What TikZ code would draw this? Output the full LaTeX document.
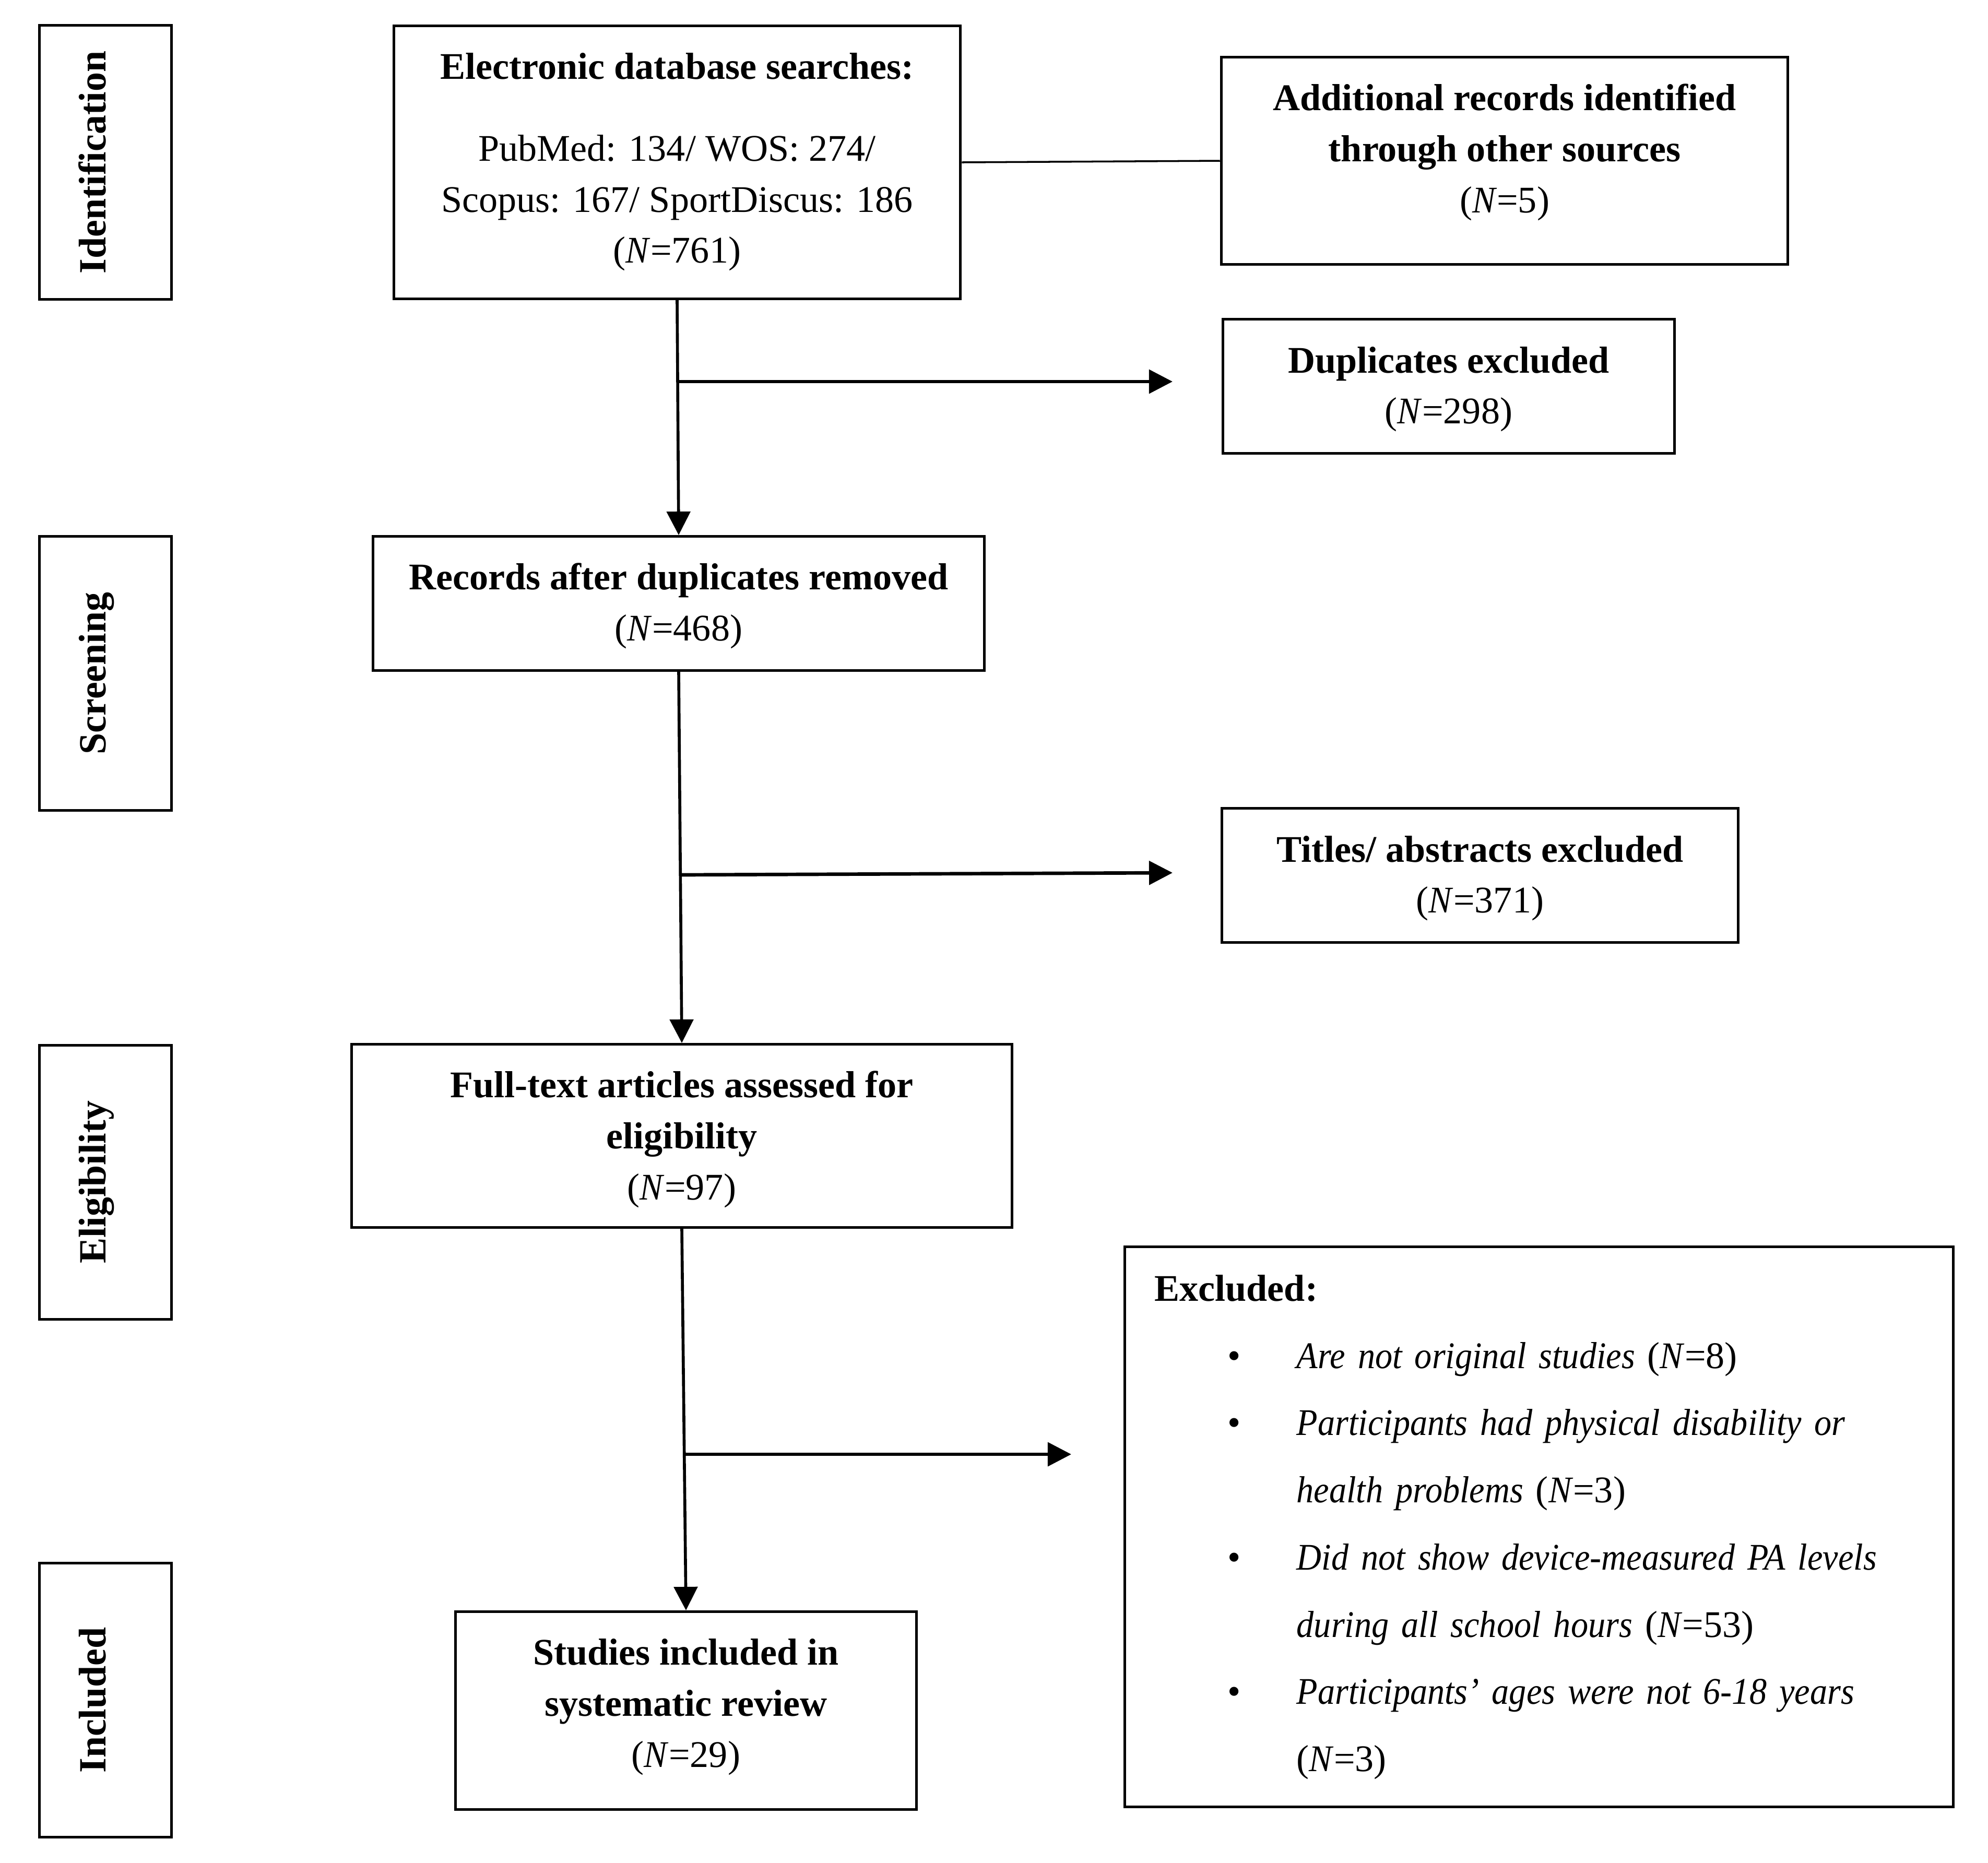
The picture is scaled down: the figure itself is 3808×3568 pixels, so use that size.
\documentclass[tikz,border=0pt]{standalone}
\usepackage{fontspec}
\setmainfont{Liberation Serif}[ItalicFeatures={FakeStretch=0.92}]
\usetikzlibrary{arrows.meta,calc}
\newcommand\mytop[1][1.02cm]{\rule{0pt}{#1}}
\newcommand\mybot[1]{\rule[-#1]{0pt}{#1}}
\begin{document}
\begin{tikzpicture}[x=0.01cm,y=-0.01cm,
  box/.style={draw, line width=1.4pt, inner sep=0pt, align=center,
    font=\fontsize{20.5}{27.8}\selectfont},
  stage/.style={draw, line width=1.4pt, rotate=90, inner sep=0pt,
    minimum width=5.25cm, minimum height=2.52cm,
    font=\fontsize{21}{24}\selectfont\bfseries, text height=0.25cm, text depth=0.25cm},
  flow/.style={line width=1.6pt, -{Triangle[length=0.45cm,width=0.45cm]}},
  branch/.style={line width=1.9pt, -{Triangle[length=0.45cm,width=0.45cm]}},
  link/.style={line width=1pt}]
\useasboundingbox (0,0) rectangle (3808,3568);

% stage labels
\node[stage] (sid) at (202,311) {Identification};
\node[stage] (ssc) at (202,1290) {Screening};
\node[stage] (sel) at (202,2265) {Eligibility};
\node[stage] (sin) at (202,3257) {Included};

% flow boxes
\node[box, minimum width=10.85cm, minimum height=5.23cm] (elec) at (1297,311)
  {\mytop\textbf{Electronic database searches:}\\[0.59cm]
   PubMed: 134/ WOS: 274/\\ Scopus: 167/ SportDiscus: 186\\ (\textit{N}=761)\mybot{0.686cm}};
\node[box, minimum width=10.85cm, minimum height=3.97cm] (add) at (2882,308)
  {\mytop\textbf{Additional records identified}\\ \textbf{through other sources}\\ (\textit{N}=5)\mybot{0.994cm}};
\node[box, minimum width=8.65cm, minimum height=2.56cm] (dup) at (2775,740)
  {\mytop\textbf{Duplicates excluded}\\ (\textit{N}=298)\mybot{0.562cm}};
\node[box, minimum width=11.71cm, minimum height=2.57cm] (rec) at (1300,1156)
  {\mytop\textbf{Records after duplicates removed}\\ (\textit{N}=468)\mybot{0.572cm}};
\node[box, minimum width=9.89cm, minimum height=2.56cm] (tit) at (2835,1677)
  {\mytop\textbf{Titles/ abstracts excluded}\\ (\textit{N}=371)\mybot{0.562cm}};
\node[box, minimum width=12.65cm, minimum height=3.51cm] (full) at (1306,2176)
  {\mytop\textbf{Full-text articles assessed for}\\ \textbf{eligibility}\\ (\textit{N}=97)\mybot{0.534cm}};
\node[box, minimum width=8.82cm, minimum height=3.79cm] (stud) at (1314,3277)
  {\mytop\textbf{Studies included in}\\ \textbf{systematic review}\\ (\textit{N}=29)\mybot{0.814cm}};
\node[box, minimum width=15.86cm, minimum height=10.73cm, align=left,
  text width=14.72cm, inner xsep=0.57cm,
  font=\fontsize{20.5}{36.6}\selectfont] (excl) at (2948,2925)
  {\mytop[1.04cm]\textbf{Excluded:}\\
   \hspace*{1.40cm}\makebox[1.32cm][l]{\textbullet}\textit{Are not original studies} (\textit{N}=8)\\
   \hspace*{1.40cm}\makebox[1.32cm][l]{\textbullet}\textit{Participants had physical disability or}\\
   \hspace*{2.72cm}\textit{health problems} (\textit{N}=3)\\
   \hspace*{1.40cm}\makebox[1.32cm][l]{\textbullet}\textit{Did not show device-measured PA levels}\\
   \hspace*{2.72cm}\textit{during all school hours} (\textit{N}=53)\\
   \hspace*{1.40cm}\makebox[1.32cm][l]{\textbullet}\textit{Participants’ ages were not 6-18 years}\\
   \hspace*{2.72cm}(\textit{N}=3)\mybot{0.681cm}};

% branch points and free ends
\coordinate (b1) at (1298,731);
\coordinate (e1) at (2246,731);
\coordinate (b2) at (1303,1676);
\coordinate (e2) at (2246,1672);
\coordinate (b3) at (1311,2786);
\coordinate (e3) at (2052,2786);

% connectors
\draw[link] (elec.east) -- (add.west);
\draw[flow] (elec.south) -- (rec.north);
\draw[flow] (rec.south) -- (full.north);
\draw[flow] (full.south) -- (stud.north);
\draw[branch] (b1) -- (e1);
\draw[branch] (b2) -- (e2);
\draw[branch] (b3) -- (e3);
\end{tikzpicture}
\end{document}
